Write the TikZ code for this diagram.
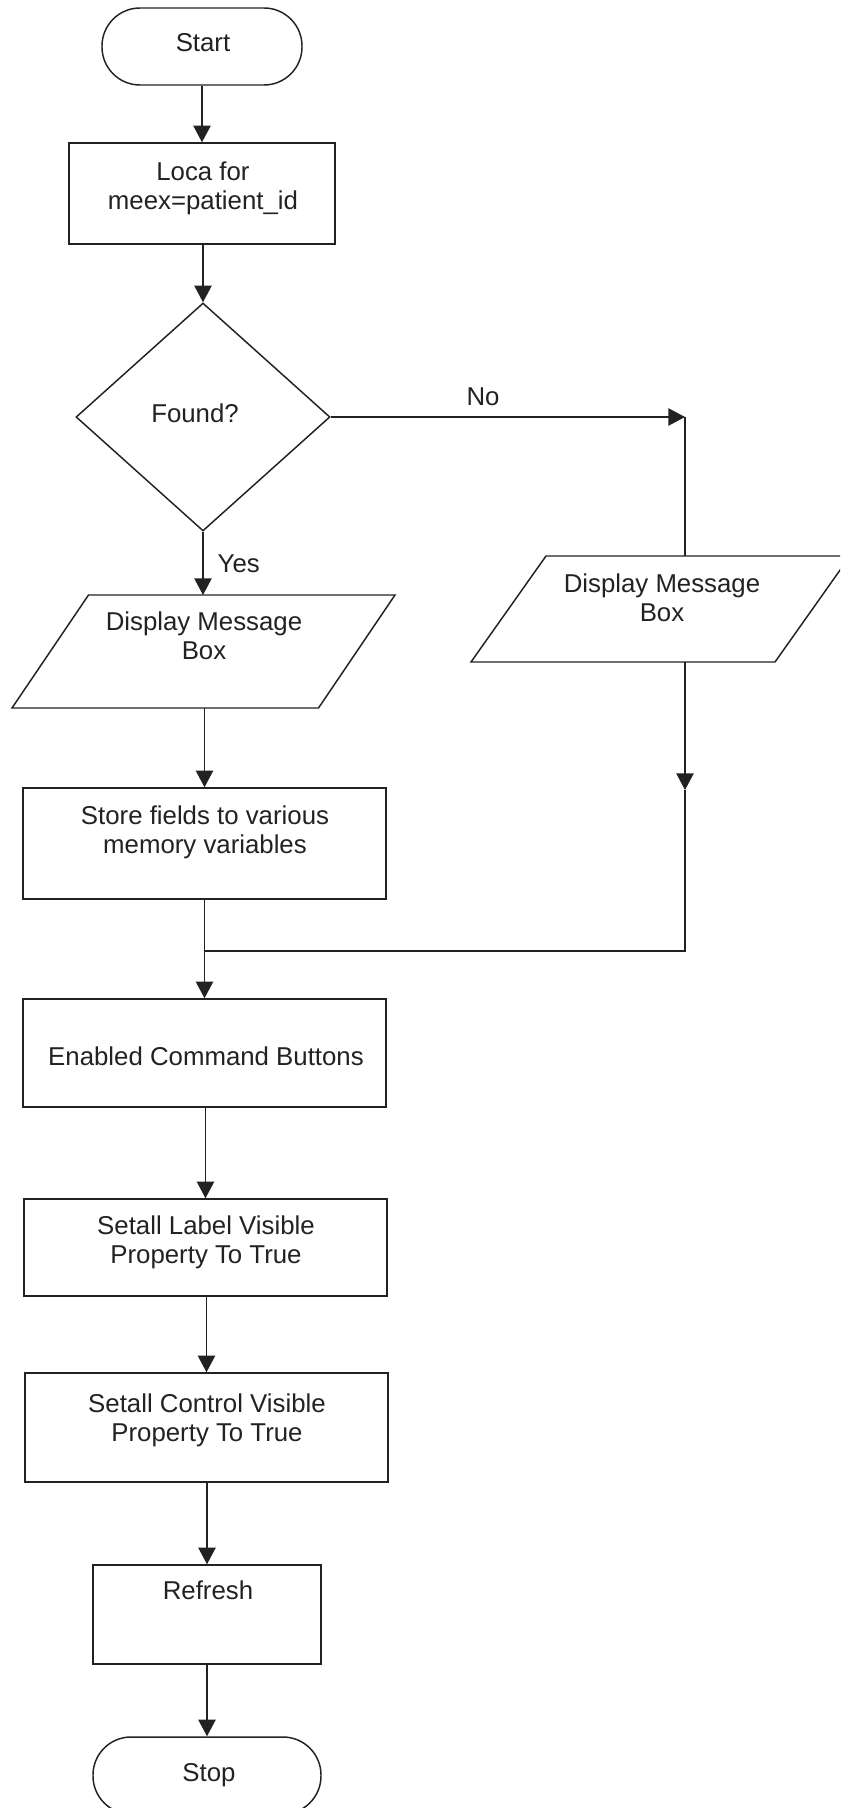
\documentclass[tikz,border=0pt]{standalone}
\usepackage{fontspec}
\setmainfont{Liberation Sans}
\usetikzlibrary{arrows.meta,shapes.geometric,calc}
\definecolor{ink}{RGB}{34,34,34}
\tikzset{
  line/.style={draw=ink, line width=1.1pt},
  arr/.style={line, -{Triangle[length=12.5pt,width=13pt]}},
  box/.style={draw=ink, line width=1.1pt, rectangle, inner sep=0pt},
  term/.style={box, rounded corners=28.5pt},
  frame/.style={rectangle, inner sep=0pt, outer sep=0pt},
  txt/.style={font=\fontsize{19.35}{21.75}\selectfont, text=ink, align=center, inner sep=0pt}
}
\begin{document}
\begin{tikzpicture}[x=0.75pt,y=-0.75pt]
\useasboundingbox (0,0) rectangle (840,1808);
\clip (0,0) rectangle (840,1808);
\fill[white] (0,0) rectangle (840,1808);

% main column shapes
\node[term, minimum width=200*0.75pt, minimum height=77*0.75pt] (start) at (202,46.5) {};
\node[txt] (startT) at (203,43) {Start};

\node[box, minimum width=266*0.75pt, minimum height=101*0.75pt] (loca) at (202,193.5) {};
\node[txt] (locaT) at (203,188) {Loca for\\meex=patient\_id};

\node[diamond, draw=ink, line width=1.1pt, inner sep=0pt, minimum width=254*0.75pt, minimum height=228*0.75pt] (found) at (203,417) {};
\node[txt] (foundT) at (195,413) {Found?};

% input/output (parallelogram) on the Yes branch
\node[frame, minimum width=383*0.75pt, minimum height=113*0.75pt] (disp1) at (203.5,651.5) {};
\draw[line] ($(disp1.north west)+(76.5,0)$) -- (disp1.north east)
  -- ($(disp1.south east)-(76.5,0)$) -- (disp1.south west) -- cycle;
\node[txt] (disp1T) at (204,636) {Display Message\\Box};

% input/output (parallelogram) on the No branch
\node[frame, minimum width=379*0.75pt, minimum height=106*0.75pt] (disp2) at (660.5,609) {};
\draw[line] ($(disp2.north west)+(75,0)$) -- (disp2.north east)
  -- ($(disp2.south east)-(75,0)$) -- (disp2.south west) -- cycle;
\node[txt] (disp2T) at (662,597.5) {Display Message\\Box};

\node[box, minimum width=363*0.75pt, minimum height=111*0.75pt] (store) at (204.5,843.5) {};
\node[txt] (storeT) at (205,832) {Store fields to various\\memory variables};

\node[box, minimum width=363*0.75pt, minimum height=108*0.75pt] (enable) at (204.5,1053) {};
\node[txt] (enableT) at (206,1056) {Enabled Command Buttons};

\node[box, minimum width=363*0.75pt, minimum height=97*0.75pt] (setl) at (205.5,1247.5) {};
\node[txt] (setlT) at (206,1242) {Setall Label Visible\\Property To True};

\node[box, minimum width=363*0.75pt, minimum height=109*0.75pt] (setc) at (206.5,1427.5) {};
\node[txt] (setcT) at (207,1420) {Setall Control Visible\\Property To True};

\node[box, minimum width=228*0.75pt, minimum height=99*0.75pt] (refresh) at (207,1614.5) {};
\node[txt] (refreshT) at (208,1590) {Refresh};

\node[term, minimum width=228*0.75pt, minimum height=77*0.75pt] (stop) at (207,1775.5) {};
\node[txt] (stopT) at (209,1775) {Stop};

% routing points of the No branch
\coordinate (nc) at (685,417);
\coordinate (rmid) at (685,790);
\coordinate (rjoin) at (685,951);
\coordinate (join) at (204.5,951);

% connectors
\draw[arr] (loca.north |- start.south) -- (loca.north);
\draw[arr] (found.north |- loca.south) -- (found.north);
\draw[arr] (found.south) -- node[txt, midway, anchor=west, xshift=14*0.75pt] (yes) {Yes} (found.south |- disp1.north);
\draw[arr] (found.east) -- node[txt, pos=0.43, yshift=15pt] (no) {No} (nc);
\draw[line] (nc) -- (nc |- disp2.north);
\draw[arr] (nc |- disp2.south) -- (rmid);
\draw[line] (rmid) -- (rjoin) -- (join);
\draw[arr] (store.north |- disp1.south) -- (store.north);
\draw[arr] (enable.north |- store.south) -- (enable.north);
\draw[arr] (setl.north |- enable.south) -- (setl.north);
\draw[arr] (setc.north |- setl.south) -- (setc.north);
\draw[arr] (refresh.north |- setc.south) -- (refresh.north);
\draw[arr] (stop.north |- refresh.south) -- (stop.north);
\end{tikzpicture}
\end{document}
